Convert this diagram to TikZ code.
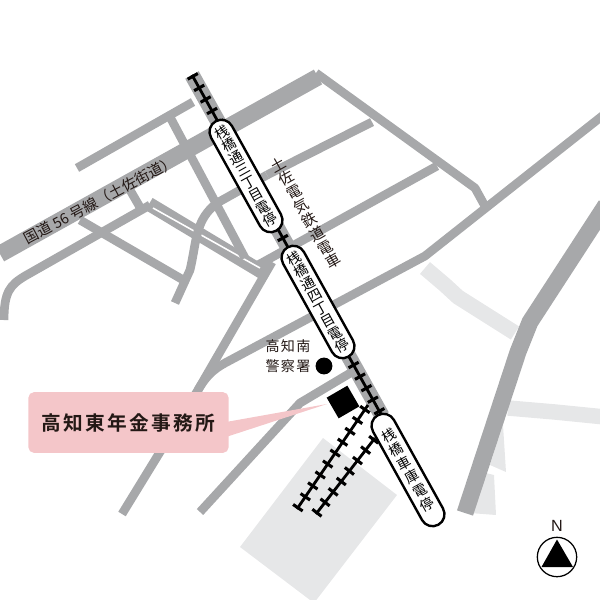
\documentclass[tikz,border=0pt]{standalone}
\usepackage{fontspec}
\setmainfont{Noto Sans CJK JP}
\newfontfamily\spacedcjk[LetterSpace=9]{Noto Sans CJK JP}
\newfontfamily\boldcjk[LetterSpace=12]{Noto Sans CJK JP Bold}
\setsansfont{Liberation Sans}
\usetikzlibrary{positioning}
\definecolor{roadgray}{HTML}{A7A8AA}
\definecolor{palegray}{HTML}{E6E7E8}
\definecolor{calloutpink}{HTML}{F4C6C9}
\definecolor{inkblack}{HTML}{231815}
\tikzset{
	road/.style={draw=roadgray,line width=6.2pt,line join=round},
	wideroad/.style={draw=roadgray,line width=12pt},
	paleroad/.style={draw=palegray,line width=11pt,line join=round},
	rail/.style={draw=black,line width=2pt},
	railties/.style={draw=black,line width=8.2pt,dash pattern=on 2.2pt off 7.2pt},
	stoppill/.style={draw=black,fill=white,line width=1.7pt,rounded corners=8.5pt,rotate=29,minimum width=17pt,inner sep=0pt,align=center,font=\fontsize{9.9}{10.1}\selectfont,text=black},
	maplabel/.style={inner sep=0pt,align=center,text=inkblack},
}
\begin{document}
\begin{tikzpicture}[x=0.025cm,y=-0.025cm]
	\useasboundingbox (0,0) rectangle (600,600);
	\clip (0,0) rectangle (600,600);
	\fill[palegray] (323,438) -- (397,495) -- (314,603) -- (240,547) -- cycle;
	\fill[palegray] (503,425) -- (506,472) -- (490,465) -- cycle;
	\fill[palegray] (494,475) -- (496,515) -- (470,513) -- (482,472) -- cycle;
	\draw[paleroad] (425,268) -- (445,285) -- (458,297) -- (515,333);
	\draw[paleroad] (508,408) -- (555,412) -- (605,417);
	\draw[wideroad] (465,513) -- (518,352) -- (530,322) -- (606,205);
	\draw[wideroad] (0,254) -- (318,77);
	\draw[road] (193,102) -- (77,168);
	\draw[road] (316,73) -- (475,188) -- (486,208);
	\draw[road] (372,122) -- (267,175);
	\draw[road] (437,166) -- (258,265);
	\draw[road] (606,113) -- (492,203) -- (425,256) -- (225,363) .. controls (212,370) and (205,378) .. (198,390);
	\draw[road] (272,262) -- (198,390) -- (122,514);
	\draw[road] (352,372) -- (300,403) -- (200,512);
	\draw[draw=roadgray,line width=10pt] (149,204) -- (262,272);
	\draw[white,line width=1.1pt] (153,208) -- (260,268);
	\draw[road] (170,117) -- (245,258);
	\draw[road] (130,190) -- (141,209);
	\draw[road] (4,320) .. controls (4,292) and (10,285) .. (25,276) -- (150,205);
	\draw[road] (80,220) -- (185,281);
	\draw[road] (267,175) -- (217,203) .. controls (195,220) and (197,240) .. (190,270) -- (175,303);
	\coordinate[] (railtop) at (192,75);
	\coordinate[] (railend) at (382,416);
	\coordinate[] (branchatop) at (368,405);
	\coordinate[] (branchaend) at (297,509);
	\coordinate[] (branchbtop) at (375,438);
	\coordinate[] (branchbend) at (316,514);
	\draw[draw=roadgray,line width=11pt] (railtop) -- (railend);
	\draw[rail] (railtop) -- (railend);
	\draw[railties] (railtop) -- (railend);
	\draw[rail] (branchaend) -- (branchatop);
	\draw[railties] (branchaend) -- (branchatop);
	\draw[rail] (branchbend) -- (branchbtop);
	\draw[railties] (branchbend) -- (branchbtop);
	\node[stoppill,minimum height=89pt] (stopa) at (246,176) {桟\\橋\\通\\三\\丁\\目\\電\\停};
	\node[stoppill,minimum height=89pt] (stopb) at (318,302) {桟\\橋\\通\\四\\丁\\目\\電\\停};
	\node[stoppill,minimum height=89pt,font=\fontsize{9.9}{11.3}\selectfont] (stopc) at (408,470) {桟\\橋\\車\\庫\\電\\停};
	\node[maplabel,rotate=29.5,font=\fontsize{10.6}{11.3}\selectfont] (trainlabel) at (305.5,213) {土\\佐\\電\\気\\鉄\\道\\電\\車};
	\node[maplabel,rotate=28,font=\fontsize{10.4}{11}\selectfont] (roadlabel) at (100,200) {国道 56 号線（土佐街道）};
	\node[maplabel,font=\spacedcjk\fontsize{10}{14.2}\selectfont] (policelabel) at (288,356) {高知南\\警察署};
	\node[circle,fill=black,inner sep=0pt,minimum size=12pt] (police) at (324,366) {};
	\node[fill=black,rotate=30,inner sep=0pt,minimum size=17pt] (office) at (343,402) {};
	\coordinate[] (callouttip) at (327,404);
	\coordinate[] (calloutup) at (226,422);
	\coordinate[] (calloutdown) at (226,437);
	\fill[calloutpink] (calloutup) -- (callouttip) -- (calloutdown) -- cycle;
	\node[fill=calloutpink,rounded corners=4pt,minimum width=142.4pt,minimum height=43.2pt,inner sep=0pt,text=inkblack,font=\boldcjk\fontsize{14}{15}\selectfont] (callout) at (128.5,422.5) {高知東年金事務所};
	\node[circle,draw=black,line width=0.9pt,inner sep=0pt,minimum size=28pt] (compass) at (557,557) {};
	\fill[black] (557,539.5) -- (573,567) -- (541.5,567) -- cycle;
	\node[inner sep=0pt,text=inkblack,font=\sffamily\fontsize{11.5}{12}\selectfont] (north) at (557,526) {N};
\end{tikzpicture}
\end{document}
